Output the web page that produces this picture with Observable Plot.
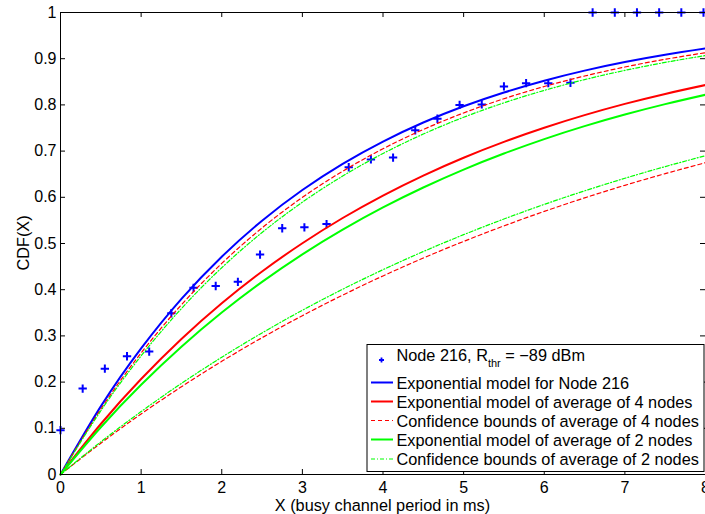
<!DOCTYPE html>
<html>
<head>
<meta charset="utf-8">
<script src="https://cdn.jsdelivr.net/npm/d3@7"></script>
<script src="https://cdn.jsdelivr.net/npm/@observablehq/plot@0.6"></script>
<style>
  html, body { margin: 0; padding: 0; background: #fff; }
  #chart svg { display: block; }
</style>
</head>
<body>
<div id="chart"></div>
<script>
// Tick values
const xTicks = [0, 1, 2, 3, 4, 5, 6, 7, 8];
const yTicks = [0, 0.1, 0.2, 0.3, 0.4, 0.5, 0.6, 0.7, 0.8, 0.9, 1];

// Measured CDF points for Node 216
const nodeX = [0, 0.275, 0.55, 0.825, 1.1, 1.375, 1.65, 1.925, 2.2, 2.475, 2.75, 3.025, 3.3, 3.575, 3.85,
  4.125, 4.4, 4.675, 4.95, 5.225, 5.5, 5.775, 6.05, 6.325, 6.6, 6.875, 7.15, 7.425, 7.7, 7.975];
const nodeY = [0.096, 0.186, 0.229, 0.256, 0.266, 0.349, 0.404, 0.408, 0.417, 0.476, 0.533, 0.535, 0.542, 0.665, 0.682,
  0.686, 0.745, 0.770, 0.800, 0.801, 0.840, 0.847, 0.847, 0.848, 1, 1, 1, 1, 1, 1];

// Curve sample positions (every 0.5 ms)
const curveX = [0, 0.5, 1, 1.5, 2, 2.5, 3, 3.5, 4, 4.5, 5, 5.5, 6, 6.5, 7, 7.5, 8];
const expNode216 = [0, 0.1474, 0.2730, 0.3802, 0.4715, 0.5494, 0.6158, 0.6724, 0.7207, 0.7619, 0.7970, 0.8269, 0.8524, 0.8742, 0.8927, 0.9085, 0.9220];
const expAvg4 = [0, 0.1093, 0.2066, 0.2933, 0.3706, 0.4394, 0.5006, 0.5552, 0.6038, 0.6471, 0.6857, 0.7200, 0.7506, 0.7779, 0.8022, 0.8238, 0.8430];
const confAvg4Upper = [0, 0.1415, 0.2631, 0.3674, 0.4569, 0.5338, 0.5998, 0.6564, 0.7051, 0.7468, 0.7826, 0.8134, 0.8398, 0.8625, 0.8820, 0.8987, 0.9130];
const confAvg4Lower = [0, 0.0678, 0.1310, 0.1900, 0.2449, 0.2961, 0.3438, 0.3883, 0.4298, 0.4685, 0.5045, 0.5381, 0.5695, 0.5987, 0.6259, 0.6512, 0.6749];
const expAvg2 = [0, 0.1023, 0.1941, 0.2765, 0.3505, 0.4169, 0.4765, 0.5300, 0.5781, 0.6212, 0.6600, 0.6947, 0.7260, 0.7540, 0.7791, 0.8017, 0.8220];
const confAvg2Upper = [0, 0.1379, 0.2568, 0.3592, 0.4476, 0.5238, 0.5894, 0.6460, 0.6948, 0.7369, 0.7732, 0.8045, 0.8314, 0.8547, 0.8747, 0.8920, 0.9069];
const confAvg2Lower = [0, 0.0706, 0.1362, 0.1972, 0.2538, 0.3065, 0.3555, 0.4010, 0.4433, 0.4826, 0.5191, 0.5530, 0.5846, 0.6139, 0.6412, 0.6665, 0.6900];

const legendLabels = [
  "Exponential model for Node 216",
  "Exponential model of average of 4 nodes",
  "Confidence bounds of average of 4 nodes",
  "Exponential model of average of 2 nodes",
  "Confidence bounds of average of 2 nodes"
];

const pts = nodeX.map((x, i) => ({x, y: nodeY[i]}));
const series = (arr) => curveX.map((x, i) => ({x, y: arr[i]}));

const W = 705, H = 514;
const mL = 60, mR = 0, mT = 12, mB = 40;
const fw = W - mL - mR, fh = H - mT - mB;
const tick = 5;

const BLUE = "#0000ff", RED = "#ff0000", GREEN = "#00ff00";
const DASH = "4,3", DASHDOT = "4,2,1,2";

const lineOpts = (color, w, dash) => ({x: "x", y: "y", stroke: color, strokeWidth: w, strokeDasharray: dash, curve: "natural"});

const chart = Plot.plot({
  width: W, height: H,
  marginLeft: mL, marginRight: mR, marginTop: mT, marginBottom: mB,
  style: {fontFamily: "'Liberation Sans', Arial, sans-serif", fontSize: "16px", background: "#fff", color: "#000"},
  x: {domain: [0, 8]},
  y: {domain: [0, 1]},
  marks: [
    Plot.axisX({ticks: xTicks, tickSize: 0, tickPadding: 7, tickFormat: d => String(d), label: null, fontSize: 16}),
    Plot.axisY({ticks: yTicks, tickSize: 0, tickPadding: 4, tickFormat: d => String(d), label: null, fontSize: 16}),
    // inward ticks on four sides
    Plot.tickX(xTicks, {x: d => d, insetTop: fh - tick, stroke: "#000", strokeWidth: 1}),
    Plot.tickX(xTicks, {x: d => d, insetBottom: fh - tick, stroke: "#000", strokeWidth: 1}),
    Plot.tickY(yTicks, {y: d => d, insetRight: fw - tick, stroke: "#000", strokeWidth: 1}),
    Plot.tickY(yTicks, {y: d => d, insetLeft: fw - tick, stroke: "#000", strokeWidth: 1}),
    Plot.dot(pts, {x: "x", y: "y", symbol: "plus", r: 2.8, stroke: BLUE, strokeWidth: 2}),
    Plot.line(series(expNode216), lineOpts(BLUE, 2)),
    Plot.line(series(expAvg4), lineOpts(RED, 2)),
    Plot.line(series(confAvg4Upper), lineOpts(RED, 1.2, DASH)),
    Plot.line(series(confAvg4Lower), lineOpts(RED, 1.2, DASH)),
    Plot.line(series(expAvg2), lineOpts(GREEN, 2)),
    Plot.line(series(confAvg2Upper), lineOpts(GREEN, 1.2, DASHDOT)),
    Plot.line(series(confAvg2Lower), lineOpts(GREEN, 1.2, DASHDOT)),
    Plot.frame({stroke: "#000", strokeWidth: 1})
  ]
});

document.getElementById("chart").appendChild(chart);

// Axis titles and legend
const svg = d3.select(chart);
const font = "'Liberation Sans', Arial, sans-serif";
svg.append("text")
  .attr("x", mL + fw / 2).attr("y", 505)
  .attr("text-anchor", "middle").attr("dominant-baseline", "central")
  .attr("font-family", font).attr("font-size", 16.3).attr("fill", "#000")
  .text("X (busy channel period in ms)");
svg.append("text")
  .attr("transform", `translate(22.5,${mT + fh / 2}) rotate(-90)`)
  .attr("text-anchor", "middle").attr("dominant-baseline", "central")
  .attr("font-family", font).attr("font-size", 16.3).attr("fill", "#000")
  .text("CDF(X)");

const lg = svg.append("g").attr("font-family", font).attr("font-size", 16.3).attr("fill", "#000")
  .attr("text-anchor", "start");
lg.append("rect").attr("x", 367).attr("y", 344.5).attr("width", 337).attr("height", 127)
  .attr("fill", "#fff").attr("stroke", "#000").attr("stroke-width", 1);

// marker row
lg.append("path").attr("d", "M379,360h5M381.5,357.5v5").attr("stroke", BLUE).attr("stroke-width", 1.8).attr("fill", "none");
const t0 = lg.append("text").attr("x", 396.5).attr("y", 361).attr("text-anchor", "start");
t0.append("tspan").text("Node 216, R");
t0.append("tspan").attr("font-size", 11).attr("dy", 6).text("thr");
t0.append("tspan").attr("dy", -6).text(" = \u221289 dBm");

const rows = [
  {y: 382.5, color: BLUE, w: 2, dash: null},
  {y: 401.5, color: RED, w: 2, dash: null},
  {y: 420.5, color: RED, w: 1.2, dash: DASH},
  {y: 439.5, color: GREEN, w: 2, dash: null},
  {y: 459, color: GREEN, w: 1.2, dash: DASHDOT}
];
rows.forEach((r, i) => {
  lg.append("line").attr("x1", 371).attr("x2", 393).attr("y1", r.y).attr("y2", r.y)
    .attr("stroke", r.color).attr("stroke-width", r.w).attr("stroke-dasharray", r.dash);
  lg.append("text").attr("x", 396.5).attr("y", r.y).attr("text-anchor", "start")
    .attr("dominant-baseline", "central").text(legendLabels[i]);
});
</script>
</body>
</html>
